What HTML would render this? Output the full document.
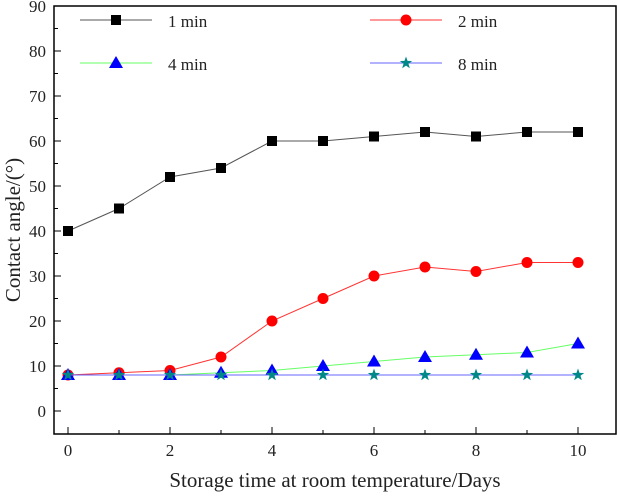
<!DOCTYPE html>
<html><head><meta charset="utf-8"><style>
body{margin:0;background:#fff;width:617px;height:493px;overflow:hidden}
text{font-family:"Liberation Serif",serif;fill:#222}
</style></head><body>
<svg id="chart" width="617" height="493" xmlns="http://www.w3.org/2000/svg"></svg>
<script>
const days=[0,1,2,3,4,5,6,7,8,9,10];
const s1min=[40,45,52,54,60,60,61,62,61,62,62];
const s2min=[8,8.5,9,12,20,25,30,32,31,33,33];
const s4min=[8,8,8,8.5,9,10,11,12,12.5,13,15];
const s8min=[8,8,8,8,8,8,8,8,8,8,8];
const yTicks=[0,10,20,30,40,50,60,70,80,90];
const xTicks=[0,2,4,6,8,10];
const L=54,R=616,T=6,B=434;
const X=v=>68+v*51, Y=v=>411-v*4.5;
const svg=document.getElementById('chart');
const NS='http://www.w3.org/2000/svg';
function mk(t,a,p){const e=document.createElementNS(NS,t);for(const k in a)e.setAttribute(k,a[k]);(p||svg).appendChild(e);return e;}
const frame=mk('rect',{x:L,y:T,width:R-L,height:B-T,fill:'none',stroke:'#000','stroke-width':1.5});


yTicks.forEach(v=>{
  mk('line',{x1:L,x2:L+7,y1:Y(v),y2:Y(v),stroke:'#000'});
  if(v<90) mk('line',{x1:L,x2:L+4,y1:Y(v+5),y2:Y(v+5),stroke:'#000'});
  const t=mk('text',{x:L-8,y:Y(v)+6,'text-anchor':'end','font-size':17});t.textContent=v;
  
  
});
xTicks.forEach(v=>{
  mk('line',{x1:X(v),x2:X(v),y1:B,y2:B-7,stroke:'#000'});
  if(v<10) mk('line',{x1:X(v+1),x2:X(v+1),y1:B,y2:B-4,stroke:'#000'});
  const t=mk('text',{x:X(v),y:B+22,'text-anchor':'middle','font-size':17});t.textContent=v;
  
  
});
const xt=mk('text',{x:335,y:487,'text-anchor':'middle','font-size':21});xt.textContent='Storage time at room temperature/Days';


const yt=mk('text',{x:0,y:0,'text-anchor':'middle','font-size':21,transform:'translate(20,230) rotate(-90)'});yt.textContent='Contact angle/(°)';


function marker(type,x,y,col,g){
  if(type==='sq') return mk('rect',{x:x-5,y:y-5,width:10,height:10,fill:col},g);
  if(type==='ci') return mk('circle',{cx:x,cy:y,r:5.5,fill:col},g);
  if(type==='tr') return mk('polygon',{points:`${x},${y-7} ${x-7},${y+5} ${x+7},${y+5}`,fill:col},g);
  let p=[];for(let i=0;i<10;i++){const r=i%2?2.6:6.5,a=-Math.PI/2+i*Math.PI/5;p.push((x+r*Math.cos(a))+','+(y+r*Math.sin(a)));}
  return mk('polygon',{points:p.join(' '),fill:col},g);
}
const series=[
 {name:'1 min',vals:s1min,line:'#555',mk:'sq',mc:'#000',lx:80,ly:20},
 {name:'2 min',vals:s2min,line:'#f33',mk:'ci',mc:'#f00',lx:370,ly:20},
 {name:'4 min',vals:s4min,line:'#6f6',mk:'tr',mc:'#00f',lx:80,ly:63},
 {name:'8 min',vals:s8min,line:'#66f',mk:'st',mc:'#088',lx:370,ly:63}];
series.forEach(s=>{
  const g=mk('g',{});
  
  
  mk('polyline',{points:days.map((d,i)=>X(d)+','+Y(s.vals[i])).join(' '),fill:'none',stroke:s.line,'stroke-width':1},g);
  days.forEach((d,i)=>{const m=marker(s.mk,X(d),Y(s.vals[i]),s.mc,g);
    
    });
  const lg=mk('g',{});
  
  
  mk('line',{x1:s.lx,x2:s.lx+72,y1:s.ly,y2:s.ly,stroke:s.line},lg);
  marker(s.mk,s.lx+36,s.ly,s.mc,lg);
  const t=mk('text',{x:s.lx+88,y:s.ly+7,'font-size':17},lg);t.textContent=s.name;
});
</script>
</body></html>
